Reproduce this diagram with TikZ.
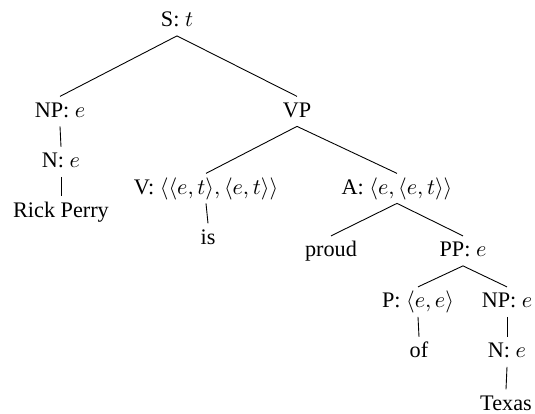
\documentclass[tikz,border=0pt]{standalone}
\usepackage{amsmath,amssymb}
\usepackage{fontspec}
\setmainfont{Liberation Serif}
\usepackage{tikz}
\usetikzlibrary{positioning}
\newcommand{\Ty}[1]{\ensuremath{\langle #1\rangle}}

\begin{document}
\begin{tikzpicture}[
    x=0.45pt, y=-0.45pt,
    cat/.style={anchor=base, inner xsep=0pt, inner ysep=0pt, text height=9.3pt, text depth=3.8pt, font=\normalsize},
    branch/.style={draw=black, line width=0.4pt}
]
\useasboundingbox (0,0) rectangle (535,414);

% Wurzel
\node[cat] (s) at (177, 27) {S: $t$};

% erste Ebene
\node[cat] (np) at (60, 117.5) {NP: $e$};
\node[cat] (vp) at (297, 117.5) {VP};

% Subjekt
\node[cat] (n) at (61, 168) {N: $e$};
\node[cat] (rp) at (61, 217.5) {Rick Perry};

% Verb und Adjektiv
\node[cat] (v) at (206, 194.5) {V: \Ty{\Ty{e,t},\Ty{e,t}}};
\node[cat] (is) at (208, 244.5) {is};
\node[cat] (a) at (397, 194.5) {A: \Ty{e,\Ty{e,t}}};
\node[cat] (proud) at (331, 257) {proud};
\node[cat] (pp) at (463, 257) {PP: $e$};

% Praepositionalphrase
\node[cat] (p) at (418, 308) {P: \Ty{e,e}};
\node[cat] (of) at (419, 358) {of};
\node[cat] (nptx) at (507, 308) {NP: $e$};
\node[cat] (ntx) at (507, 358) {N: $e$};
\node[cat] (texas) at (506, 410.5) {Texas};

% Kanten
\draw[branch] (s.south) -- (np.north);
\draw[branch] (s.south) -- (vp.north);
\draw[branch] (np.south) -- (n.north);
\draw[branch] (n.south) -- (rp.north);
\draw[branch] (vp.south) -- (v.north);
\draw[branch] (vp.south) -- (a.north);
\draw[branch] (v.south) -- (is.north);
\draw[branch] (a.south) -- (proud.north);
\draw[branch] (a.south) -- (pp.north);
\draw[branch] (pp.south) -- (p.north);
\draw[branch] (pp.south) -- (nptx.north);
\draw[branch] (p.south) -- (of.north);
\draw[branch] (nptx.south) -- (ntx.north);
\draw[branch] (ntx.south) -- (texas.north);

\end{tikzpicture}
\end{document}
